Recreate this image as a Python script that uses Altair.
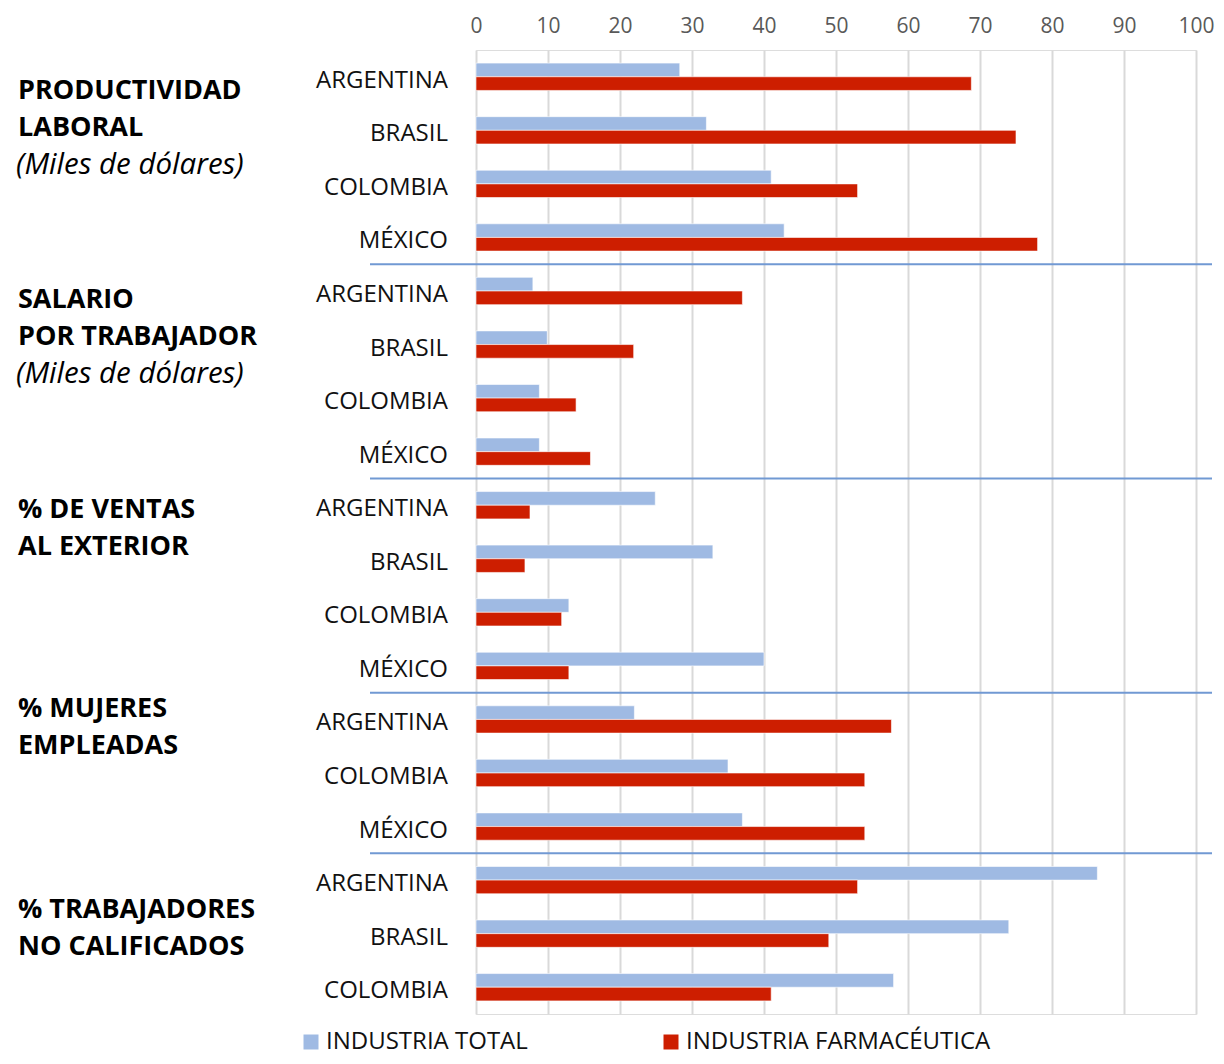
import altair as alt
import pandas as pd

# ---------------- data ----------------
series_names = ["INDUSTRIA TOTAL", "INDUSTRIA FARMACÉUTICA"]
series_colors = ["#9FBAE3", "#CD1E00"]

group_title_lines = [
    ["PRODUCTIVIDAD", "LABORAL"],
    ["SALARIO", "POR TRABAJADOR"],
    ["% DE VENTAS", "AL EXTERIOR"],
    ["% MUJERES", "EMPLEADAS"],
    ["% TRABAJADORES", "NO CALIFICADOS"],
]
group_subtitles = ["(Miles de dólares)", "(Miles de dólares)", "", "", ""]

group_countries = [
    ["ARGENTINA", "BRASIL", "COLOMBIA", "MÉXICO"],
    ["ARGENTINA", "BRASIL", "COLOMBIA", "MÉXICO"],
    ["ARGENTINA", "BRASIL", "COLOMBIA", "MÉXICO"],
    ["ARGENTINA", "COLOMBIA", "MÉXICO"],
    ["ARGENTINA", "BRASIL", "COLOMBIA"],
]
industria_total = [
    [28.3, 32.0, 41.0, 42.8],
    [7.9, 9.9, 8.8, 8.8],
    [24.9, 32.9, 12.9, 40.0],
    [22.0, 35.0, 37.0],
    [86.3, 74.0, 58.0],
]
industria_farmaceutica = [
    [68.8, 75.0, 53.0, 78.0],
    [37.0, 21.9, 13.9, 15.9],
    [7.5, 6.8, 11.9, 12.9],
    [57.7, 54.0, 54.0],
    [53.0, 49.0, 41.0],
]
x_ticks = [0, 10, 20, 30, 40, 50, 60, 70, 80, 90, 100]

# ---------------- layout (styles only) ----------------
FONT = "Open Sans"
BAR_HALF = 0.255          # bar thickness in row units
LINE_STEP = 0.691         # title line spacing in row units
title_nudge = [0.224, 0.127, 0.049, -0.235, 0.518]

# ---------------- tables built from the arrays ----------------
bar_rows, label_rows, title_rows, sep_rows = [], [], [], []
r = 0
for g, countries in enumerate(group_countries):
    first = r
    for i, c in enumerate(countries):
        for s, vals in zip(series_names, [industria_total[g], industria_farmaceutica[g]]):
            top = r - BAR_HALF if s == series_names[0] else r
            bar_rows.append({"row": r, "country": c, "serie": s, "value": vals[i],
                             "y0": top, "y1": top + BAR_HALF})
        label_rows.append({"y": r, "country": c})
        r += 1
    lines = group_title_lines[g]
    for k, t in enumerate(lines):
        title_rows.append({"y": first + title_nudge[g] + k * LINE_STEP, "text": t, "kind": "b"})
    if group_subtitles[g]:
        title_rows.append({"y": first + title_nudge[g] + len(lines) * LINE_STEP,
                           "text": group_subtitles[g], "kind": "i"})
    if g < len(group_countries) - 1:
        sep_rows.append({"y": r - 0.5})
n_rows = r

bars_df = pd.DataFrame(bar_rows)
labels_df = pd.DataFrame(label_rows)
titles_df = pd.DataFrame(title_rows)
sep_df = pd.DataFrame(sep_rows)

yscale = alt.Scale(domain=[-0.5, n_rows - 0.5], reverse=True, nice=False, zero=False)

bars = alt.Chart(bars_df).mark_bar(stroke="white", strokeWidth=0.6).encode(
    x=alt.X("value:Q",
            scale=alt.Scale(domain=[0, 100], nice=False),
            axis=alt.Axis(orient="top", values=x_ticks, grid=True, domain=False, ticks=False,
                          labelFontSize=21, labelFont=FONT, labelColor="#595959",
                          labelFlush=False, labelPadding=14,
                          gridColor="#D9D9D9", gridWidth=2, title=None)),
    x2=alt.datum(0),
    y=alt.Y("y0:Q", scale=yscale, axis=None),
    y2="y1:Q",
    color=alt.Color("serie:N",
                    scale=alt.Scale(domain=series_names, range=series_colors),
                    sort=series_names,
                    legend=alt.Legend(orient="none", legendX=-177, legendY=980,
                                      direction="horizontal", columns=2, columnPadding=131,
                                      symbolType="square", symbolSize=225, symbolStrokeWidth=0,
                                      labelFontSize=24, labelFont=FONT, labelColor="#111111",
                                      labelOffset=3, labelLimit=500, title=None, padding=0)),
)

country_labels = alt.Chart(labels_df).mark_text(
    align="right", baseline="middle", dy=4, fontSize=24, font=FONT, color="#111111"
).encode(
    x=alt.value(-28),
    y=alt.Y("y:Q", scale=yscale, axis=None),
    text="country:N",
)

title_bold = alt.Chart(titles_df).transform_filter(alt.datum.kind == "b").mark_text(
    align="left", baseline="middle", dy=2, fontSize=27, font=FONT, fontWeight="bold",
    color="#000000"
).encode(
    x=alt.value(-458),
    y=alt.Y("y:Q", scale=yscale, axis=None),
    text="text:N",
)

title_italic = alt.Chart(titles_df).transform_filter(alt.datum.kind == "i").mark_text(
    align="left", baseline="middle", dy=2, fontSize=29.5, font=FONT, fontStyle="italic",
    color="#000000"
).encode(
    x=alt.value(-460),
    y=alt.Y("y:Q", scale=yscale, axis=None),
    text="text:N",
)

separators = alt.Chart(sep_df).mark_rule(color="#7199D3", strokeWidth=2).encode(
    y=alt.Y("y:Q", scale=yscale, axis=None),
    x=alt.value(-106),
    x2=alt.value(736),
)

chart = alt.layer(bars, separators, country_labels, title_bold, title_italic).properties(
    width=720,
    height=964,
    padding={"left": 468, "top": 42, "right": 20, "bottom": 42},
    autosize=alt.AutoSizeParams(type="none"),
).configure_view(stroke=None).configure(font=FONT)

chart.save("out.html", embed_options={"renderer": "svg", "actions": False})
